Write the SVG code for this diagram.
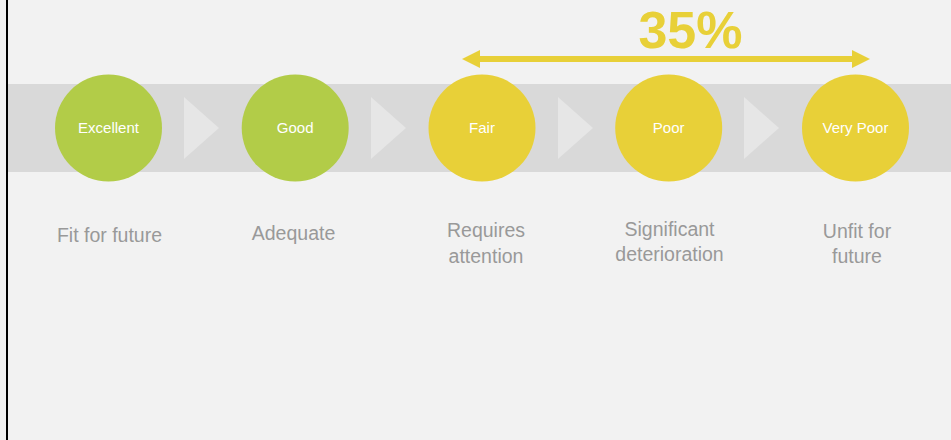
<svg xmlns="http://www.w3.org/2000/svg" width="951" height="440" viewBox="0 0 951 440">
<style>
.bg{fill:#f2f2f2}
.band{fill:#d9d9d9}
.tri{fill:#e6e6e6}
.g{fill:#b2cc48}
.y{fill:#e8d038}
.ct{font-family:"Liberation Sans",Arial,sans-serif;font-size:15px;fill:#ffffff;text-anchor:middle}
.lb{font-family:"Liberation Sans",Arial,sans-serif;font-size:19.5px;fill:#999999;text-anchor:middle}
.pct{font-family:"Liberation Sans",Arial,sans-serif;font-size:52px;font-weight:bold;fill:#e8d038;text-anchor:middle}
</style>
<rect class="bg" x="0" y="0" width="951" height="440"/>
<rect x="6" y="0" width="2" height="440" fill="#000"/>
<rect class="band" x="8" y="84" width="943" height="88"/>
<g id="connectors">
<polygon class="tri" points="184,97 219,128 184,159"/>
<polygon class="tri" points="371,97 406,128 371,159"/>
<polygon class="tri" points="558,97 593,128 558,159"/>
<polygon class="tri" points="744,97 779,128 744,159"/>
<g id="range-arrow">
<rect class="y" x="478" y="56" width="376" height="6"/>
<polygon class="y" points="462,59 480,50 480,68"/>
<polygon class="y" points="870,59 852,50 852,68"/>
</g>
</g>
<text class="pct" x="690.5" y="47.5">35%</text>
<g id="excellent"><circle class="g" cx="108.5" cy="128" r="53.5"/><text class="ct" x="108.5" y="133">Excellent</text><text class="lb" x="109.5" y="242">Fit for future</text></g>
<g id="good"><circle class="g" cx="295.2" cy="128" r="53.5"/><text class="ct" x="295.2" y="133">Good</text><text class="lb" x="293.5" y="240">Adequate</text></g>
<g id="fair"><circle class="y" cx="482" cy="128" r="53.5"/><text class="ct" x="482" y="133">Fair</text><text class="lb" x="486" y="237"><tspan x="486">Requires</tspan><tspan x="486" y="262.5">attention</tspan></text></g>
<g id="poor"><circle class="y" cx="668.7" cy="128" r="53.5"/><text class="ct" x="668.7" y="133">Poor</text><text class="lb" x="669.5" y="236"><tspan x="669.5">Significant</tspan><tspan x="669.5" y="260.5">deterioration</tspan></text></g>
<g id="very-poor"><circle class="y" cx="855.5" cy="128" r="53.5"/><text class="ct" x="855.5" y="133">Very Poor</text><text class="lb" x="857" y="238"><tspan x="857">Unfit for</tspan><tspan x="857" y="263">future</tspan></text></g>
</svg>
